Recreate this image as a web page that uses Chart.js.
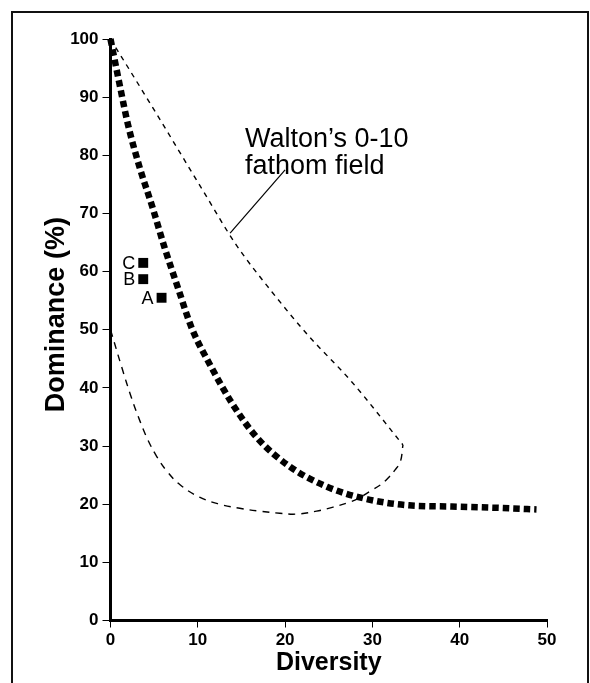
<!DOCTYPE html>
<html lang="en">
<head>
<meta charset="UTF-8">
<title>Dominance vs Diversity</title>
<script src="https://cdn.jsdelivr.net/npm/chart.js"></script>
<style>
    body { margin: 0; background: #fff; }
    .wrap { position: relative; width: 590px; height: 683px; overflow: hidden; }
    /* scanned figure frame, open at the bottom */
    .frame {
        position: absolute; left: 11px; top: 11px; width: 574px; height: 700px;
        border: 2px solid #111; border-bottom: none;
    }
    canvas { position: absolute; left: 0; top: 0; }
</style>
</head>
<body>
<div class="wrap">
    <div class="frame"></div>
    <canvas id="chart" width="590" height="683"></canvas>
</div>

<script>
// Walton's 0-10 fathom field, upper edge
const fieldUpperX = [0, 5, 10.4, 14.4, 18.5, 22.6, 27.6, 33.5];
const fieldUpperY = [100, 87.8, 74.4, 64.6, 56.5, 49.1, 41.1, 30.2];
// Walton's field, lower edge
const fieldLowerX = [0, 1.3, 2.4, 3.4, 4.3, 5.3, 6.5, 8, 10.2, 12.5, 14.8, 17.1, 19.4, 21.3, 23.6, 25.5, 27.1, 28.4, 29.7, 30.9, 31.8, 32.6, 33.2, 33.5];
const fieldLowerY = [50, 43.5, 38.3, 34.2, 31, 28.2, 25.6, 23.3, 21.2, 20, 19.3, 18.8, 18.45, 18.3, 18.8, 19.5, 20.2, 21, 22.2, 23.3, 24.5, 25.9, 27.3, 30.2];
// thick dotted trend curve
const trendX = [0, 1, 2, 3.3, 4.8, 6.2, 7.75, 9.3, 11.5, 13.9, 16.8, 20.5, 24.8, 29.3, 34.2, 39.1, 43.9, 48.8];
const trendY = [100, 92.5, 85.3, 78.1, 71.1, 64.1, 57.1, 50.3, 43.7, 37.4, 31.4, 26.5, 23.0, 20.9, 19.8, 19.6, 19.4, 19.1];
// samples
const sampleNames = ['A', 'B', 'C'];
const sampleX = [5.85, 3.75, 3.75];
const sampleY = [55.5, 58.7, 61.5];
// leader line from label to field edge
const leaderX = [13.7, 20.0];
const leaderY = [66.6, 77.5];
const fieldLabel = ['Walton\u2019s 0-10', 'fathom field'];
const fieldLabelX = 15.4;
const fieldLabelY = [81.5, 76.7];
const yTitle = 'Dominance (%)';
const yTitleAt = 52.6;   // value where the rotated title is centred

const FONT = '"Liberation Sans", Arial, Helvetica, sans-serif';

function pts(xs, ys) {
    return xs.map((x, i) => ({ x: x, y: ys[i] }));
}

const labelPlugin = {
    id: 'labels',
    afterDatasetsDraw(chart) {
        const { ctx, scales: { x, y } } = chart;
        ctx.save();
        ctx.fillStyle = '#000';
        // A, B, C next to the squares
        ctx.font = '18px ' + FONT;
        ctx.textAlign = 'right';
        ctx.textBaseline = 'middle';
        chart.getDatasetMeta(4).data.forEach((p, i) => {
            ctx.fillText(sampleNames[i], p.x - 8, p.y + 1);
        });
        // field label
        ctx.font = '27px ' + FONT;
        ctx.textAlign = 'left';
        ctx.textBaseline = 'alphabetic';
        fieldLabel.forEach((t, i) => {
            ctx.fillText(t, x.getPixelForValue(fieldLabelX), y.getPixelForValue(fieldLabelY[i]));
        });
        // y axis title, sits a bit above the middle of the axis
        ctx.translate(y.left + 57, y.getPixelForValue(yTitleAt));
        ctx.rotate(-Math.PI / 2);
        ctx.font = 'bold 27px ' + FONT;
        ctx.textAlign = 'center';
        ctx.textBaseline = 'middle';
        ctx.fillText(yTitle, 0, 0);
        ctx.restore();
    }
};

const ctx = document.getElementById('chart').getContext('2d');
new Chart(ctx, {
    type: 'scatter',
    data: {
        datasets: [
            {
                data: pts(fieldUpperX, fieldUpperY),
                showLine: true, borderColor: '#000', borderWidth: 1.4,
                borderDash: [5, 5], pointRadius: 0, cubicInterpolationMode: 'monotone'
            },
            {
                data: pts(fieldLowerX, fieldLowerY),
                showLine: true, borderColor: '#000', borderWidth: 1.4,
                borderDash: [7, 6], pointRadius: 0, tension: 0.4
            },
            {
                data: pts(leaderX, leaderY),
                showLine: true, borderColor: '#000', borderWidth: 1.2, pointRadius: 0
            },
            {
                data: pts(trendX, trendY),
                showLine: true, borderColor: '#000', borderWidth: 6.5,
                borderDash: [6.5, 4], borderCapStyle: 'butt',
                pointRadius: 0, cubicInterpolationMode: 'monotone'
            },
            {
                data: pts(sampleX, sampleY),
                pointStyle: 'rect', pointRadius: 7, pointBackgroundColor: '#000',
                pointBorderWidth: 0, showLine: false
            }
        ]
    },
    options: {
        responsive: false,
        devicePixelRatio: 1,
        animation: false,
        events: [],
        clip: false,
        layout: { padding: { left: 0, right: 43, top: 39, bottom: 0 } },
        plugins: { legend: { display: false }, tooltip: { enabled: false } },
        scales: {
            x: {
                type: 'linear', min: 0, max: 50,
                afterFit: (s) => { s.height = 62.5; },
                border: { display: true, width: 3, color: '#000' },
                grid: { drawOnChartArea: false, drawTicks: true, tickLength: 7, tickWidth: 1, tickColor: '#000' },
                ticks: { stepSize: 10, color: '#000', padding: 3, font: { family: FONT, size: 17, weight: 'bold' } },
                title: { display: true, text: 'Diversity', color: '#000', padding: { top: 0, bottom: 5 },
                         font: { family: FONT, size: 25, weight: 'bold' } }
            },
            y: {
                type: 'linear', min: 0, max: 100,
                afterFit: (s) => { s.width = 110.5; },
                border: { display: true, width: 3, color: '#000' },
                grid: { drawOnChartArea: false, drawTicks: true, tickLength: 8, tickWidth: 1, tickColor: '#000' },
                ticks: { stepSize: 10, color: '#000', padding: 4, font: { family: FONT, size: 17, weight: 'bold' } },
                title: { display: false }
            }
        }
    },
    plugins: [labelPlugin]
});
</script>
</body>
</html>
